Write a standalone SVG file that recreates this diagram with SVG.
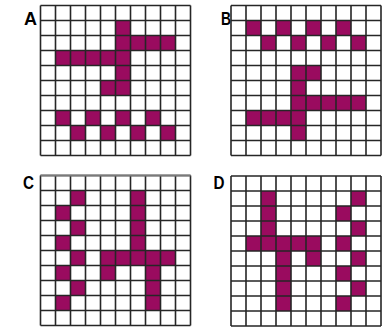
<svg xmlns="http://www.w3.org/2000/svg" xmlns:xlink="http://www.w3.org/1999/xlink" width="382" height="327" viewBox="0 0 382 327">
<style>
.c{fill:#9a0b5f}
.g{fill:none;stroke:#262626;stroke-width:1.6}
.bg{fill:#ffffff}
.lbl{font-family:"Liberation Sans",Arial,sans-serif;font-weight:bold;font-size:18px;fill:#000}
</style>
<defs>
<path id="grid" class="g" d="M0 0V150M15 0V150M30 0V150M45 0V150M60 0V150M75 0V150M90 0V150M105 0V150M120 0V150M135 0V150M150 0V150M0 0H150M0 15H150M0 30H150M0 45H150M0 60H150M0 75H150M0 90H150M0 105H150M0 120H150M0 135H150M0 150H150"/>
</defs>
<rect width="382" height="327" fill="#ffffff"/>
<g id="panelA">
<text class="lbl" x="24" y="25" textLength="13" lengthAdjust="spacingAndGlyphs">A</text>
<g transform="translate(40.5,5.5)">
<rect class="c" x="75" y="15" width="15" height="15"/>
<rect class="c" x="75" y="30" width="60" height="15"/>
<rect class="c" x="15" y="45" width="75" height="15"/>
<rect class="c" x="75" y="60" width="15" height="15"/>
<rect class="c" x="60" y="75" width="30" height="15"/>
<rect class="c" x="15" y="105" width="15" height="15"/>
<rect class="c" x="45" y="105" width="15" height="15"/>
<rect class="c" x="75" y="105" width="15" height="15"/>
<rect class="c" x="105" y="105" width="15" height="15"/>
<rect class="c" x="30" y="120" width="15" height="15"/>
<rect class="c" x="60" y="120" width="15" height="15"/>
<rect class="c" x="90" y="120" width="15" height="15"/>
<rect class="c" x="120" y="120" width="15" height="15"/>
<use xlink:href="#grid"/>
</g>
</g>
<g id="panelB">
<text class="lbl" x="221" y="24.5" textLength="10" lengthAdjust="spacingAndGlyphs">B</text>
<g transform="translate(231,5.5)">
<rect class="c" x="15" y="15" width="15" height="15"/>
<rect class="c" x="45" y="15" width="15" height="15"/>
<rect class="c" x="75" y="15" width="15" height="15"/>
<rect class="c" x="105" y="15" width="15" height="15"/>
<rect class="c" x="30" y="30" width="15" height="15"/>
<rect class="c" x="60" y="30" width="15" height="15"/>
<rect class="c" x="90" y="30" width="15" height="15"/>
<rect class="c" x="120" y="30" width="15" height="15"/>
<rect class="c" x="60" y="60" width="30" height="15"/>
<rect class="c" x="60" y="75" width="15" height="15"/>
<rect class="c" x="60" y="90" width="75" height="15"/>
<rect class="c" x="15" y="105" width="60" height="15"/>
<rect class="c" x="60" y="120" width="15" height="15"/>
<use xlink:href="#grid"/>
</g>
</g>
<g id="panelC">
<text class="lbl" x="23" y="189" textLength="11" lengthAdjust="spacingAndGlyphs">C</text>
<g transform="translate(40.5,175.5)">
<rect class="c" x="30" y="15" width="15" height="15"/>
<rect class="c" x="15" y="30" width="15" height="15"/>
<rect class="c" x="30" y="45" width="15" height="15"/>
<rect class="c" x="15" y="60" width="15" height="15"/>
<rect class="c" x="30" y="75" width="15" height="15"/>
<rect class="c" x="15" y="90" width="15" height="15"/>
<rect class="c" x="30" y="105" width="15" height="15"/>
<rect class="c" x="15" y="120" width="15" height="15"/>
<rect class="c" x="90" y="15" width="15" height="60"/>
<rect class="c" x="60" y="75" width="75" height="15"/>
<rect class="c" x="60" y="90" width="15" height="15"/>
<rect class="c" x="105" y="90" width="15" height="45"/>
<use xlink:href="#grid"/>
<path d="M0 0H150" fill="none" stroke="#7a7a7a" stroke-width="2.2"/>
</g>
</g>
<g id="panelD">
<text class="lbl" x="213.5" y="189" textLength="11" lengthAdjust="spacingAndGlyphs">D</text>
<g transform="translate(231,176)">
<rect class="c" x="30" y="15" width="15" height="45"/>
<rect class="c" x="15" y="60" width="75" height="15"/>
<rect class="c" x="45" y="75" width="15" height="60"/>
<rect class="c" x="75" y="75" width="15" height="15"/>
<rect class="c" x="120" y="15" width="15" height="15"/>
<rect class="c" x="105" y="30" width="15" height="15"/>
<rect class="c" x="120" y="45" width="15" height="15"/>
<rect class="c" x="105" y="60" width="15" height="15"/>
<rect class="c" x="120" y="75" width="15" height="15"/>
<rect class="c" x="105" y="90" width="15" height="15"/>
<rect class="c" x="120" y="105" width="15" height="15"/>
<rect class="c" x="105" y="120" width="15" height="15"/>
<use xlink:href="#grid"/>
</g>
</g>
</svg>
